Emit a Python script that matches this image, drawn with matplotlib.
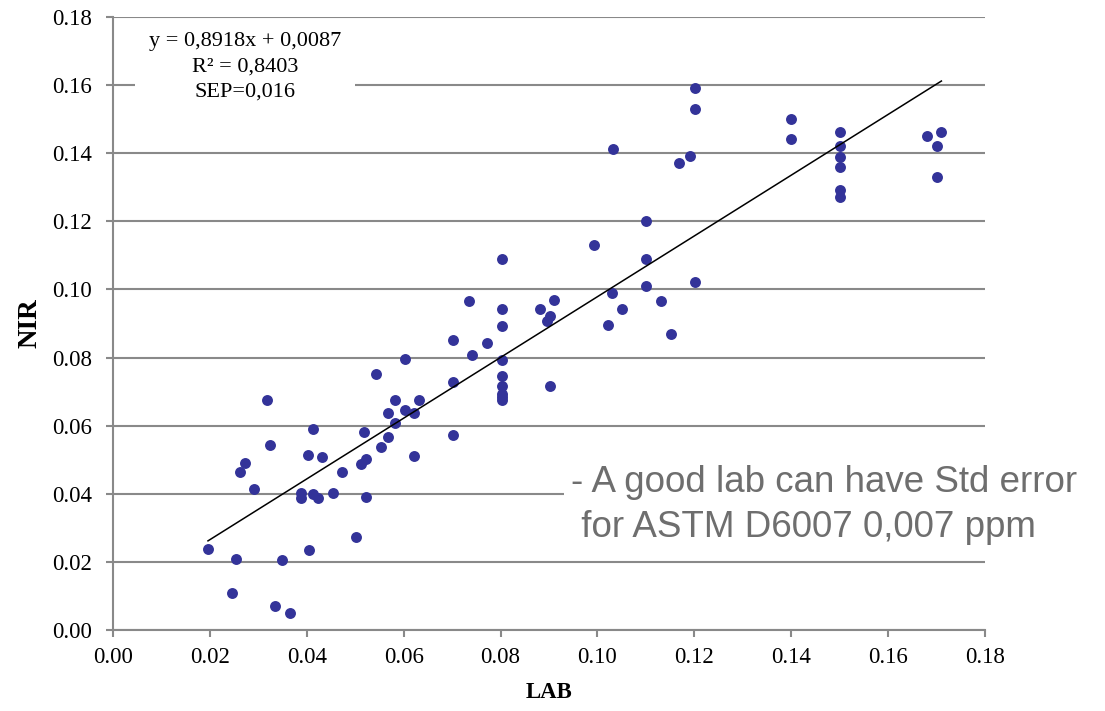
import numpy as np
import matplotlib
matplotlib.use("Agg")
import matplotlib.pyplot as plt

# LAB (x) és NIR (y) értékek
lab = [0.0196, 0.0254, 0.0246, 0.0334, 0.0365, 0.0349, 0.0405, 0.0502,
       0.0262, 0.0272, 0.0292, 0.0318, 0.0323, 0.0389, 0.0389, 0.0413, 0.0423,
       0.0402, 0.0412, 0.0432, 0.0455, 0.0473, 0.0518, 0.0522, 0.0512, 0.0523,
       0.0543, 0.0553, 0.0567, 0.0567, 0.0582, 0.0583, 0.0602, 0.0602, 0.0621,
       0.0621, 0.0632, 0.0702, 0.0702, 0.0702, 0.0735, 0.0742, 0.0772,
       0.0802, 0.0802, 0.0802, 0.0802, 0.0802, 0.0802, 0.0802, 0.0802, 0.0802,
       0.0881, 0.0902, 0.0896, 0.0911, 0.0902, 0.0993, 0.1032, 0.1031, 0.1021,
       0.1051, 0.1101, 0.1101, 0.1101, 0.1132, 0.1151, 0.1169, 0.1191,
       0.1201, 0.1201, 0.1201, 0.1400, 0.1400,
       0.1501, 0.1501, 0.1501, 0.1501, 0.1501, 0.1501,
       0.1680, 0.1710, 0.1700, 0.1700]
nir = [0.0237, 0.0208, 0.0109, 0.0070, 0.0050, 0.0205, 0.0235, 0.0273,
       0.0465, 0.0489, 0.0414, 0.0676, 0.0544, 0.0401, 0.0389, 0.0398, 0.0388,
       0.0513, 0.0590, 0.0509, 0.0403, 0.0465, 0.0581, 0.0391, 0.0487, 0.0502,
       0.0752, 0.0537, 0.0567, 0.0637, 0.0608, 0.0676, 0.0797, 0.0645, 0.0636,
       0.0510, 0.0676, 0.0853, 0.0728, 0.0574, 0.0967, 0.0807, 0.0843,
       0.1090, 0.0943, 0.0893, 0.0793, 0.0746, 0.0717, 0.0693, 0.0683, 0.0675,
       0.0942, 0.0921, 0.0908, 0.0968, 0.0717, 0.1130, 0.1412, 0.0991, 0.0896,
       0.0942, 0.1201, 0.1090, 0.1010, 0.0966, 0.0870, 0.1370, 0.1391,
       0.1591, 0.1531, 0.1021, 0.1500, 0.1441,
       0.1461, 0.1421, 0.1390, 0.1360, 0.1292, 0.1271,
       0.1451, 0.1461, 0.1421, 0.1331]

# Trendvonal paraméterei
slope, intercept = 0.8918, 0.0087

xticks = np.arange(0, 0.181, 0.02)
yticks = np.arange(0, 0.181, 0.02)

plt.rcParams["font.family"] = ["Liberation Serif", "DejaVu Serif"]
grey = "#898989"

fig = plt.figure(figsize=(11.05, 7.11), dpi=100)
ax = fig.add_axes([0.1023, 0.1139, 0.7891, 0.8622])

ax.scatter(lab, nir, s=62, color="#333399", zorder=3, linewidths=0)

xl = np.array([min(lab), max(lab)])
ax.plot(xl, slope * xl + intercept, color="black", lw=1.1, zorder=4)

ax.set_xlim(0, 0.18)
ax.set_ylim(0, 0.18)
ax.set_xticks(xticks)
ax.set_yticks(yticks)
ax.set_xticklabels(["%.2f" % t for t in xticks])
ax.set_yticklabels(["%.2f" % t for t in yticks])
ax.tick_params(direction="out", length=5, width=1.5, color=grey, labelsize=16.5)
ax.tick_params(axis="x", pad=7)
ax.tick_params(axis="y", pad=10)
ax.yaxis.grid(True, color=grey, lw=1.5)
ax.set_axisbelow(True)
for s in ["top", "right"]:
    ax.spines[s].set_visible(False)
for s in ["left", "bottom"]:
    ax.spines[s].set_color(grey)
    ax.spines[s].set_linewidth(1.5)

ax.set_xlabel("LAB", fontsize=16.5, fontweight="bold", labelpad=10)
ax.set_ylabel("NIR", fontsize=19.5, fontweight="bold", labelpad=7)

# Egyenlet szövegdoboz
ax.text(0.02725, 0.1755, "y = 0,8918x + 0,0087\nR² = 0,8403\nSEP=0,016",
        ha="center", va="top", fontsize=16, linespacing=1.45, zorder=5,
        bbox=dict(facecolor="white", edgecolor="none", pad=10))

# Megjegyzés
ax.text(0.0945, 0.0367, "- A good lab can have Std error\n for ASTM D6007 0,007 ppm",
        ha="left", va="center", fontsize=26.5, color="#6e6e6e",
        family=["Liberation Sans", "DejaVu Sans"], linespacing=1.38, zorder=5,
        bbox=dict(facecolor="white", edgecolor="none", pad=5))

fig.savefig("out.png", dpi=100)
